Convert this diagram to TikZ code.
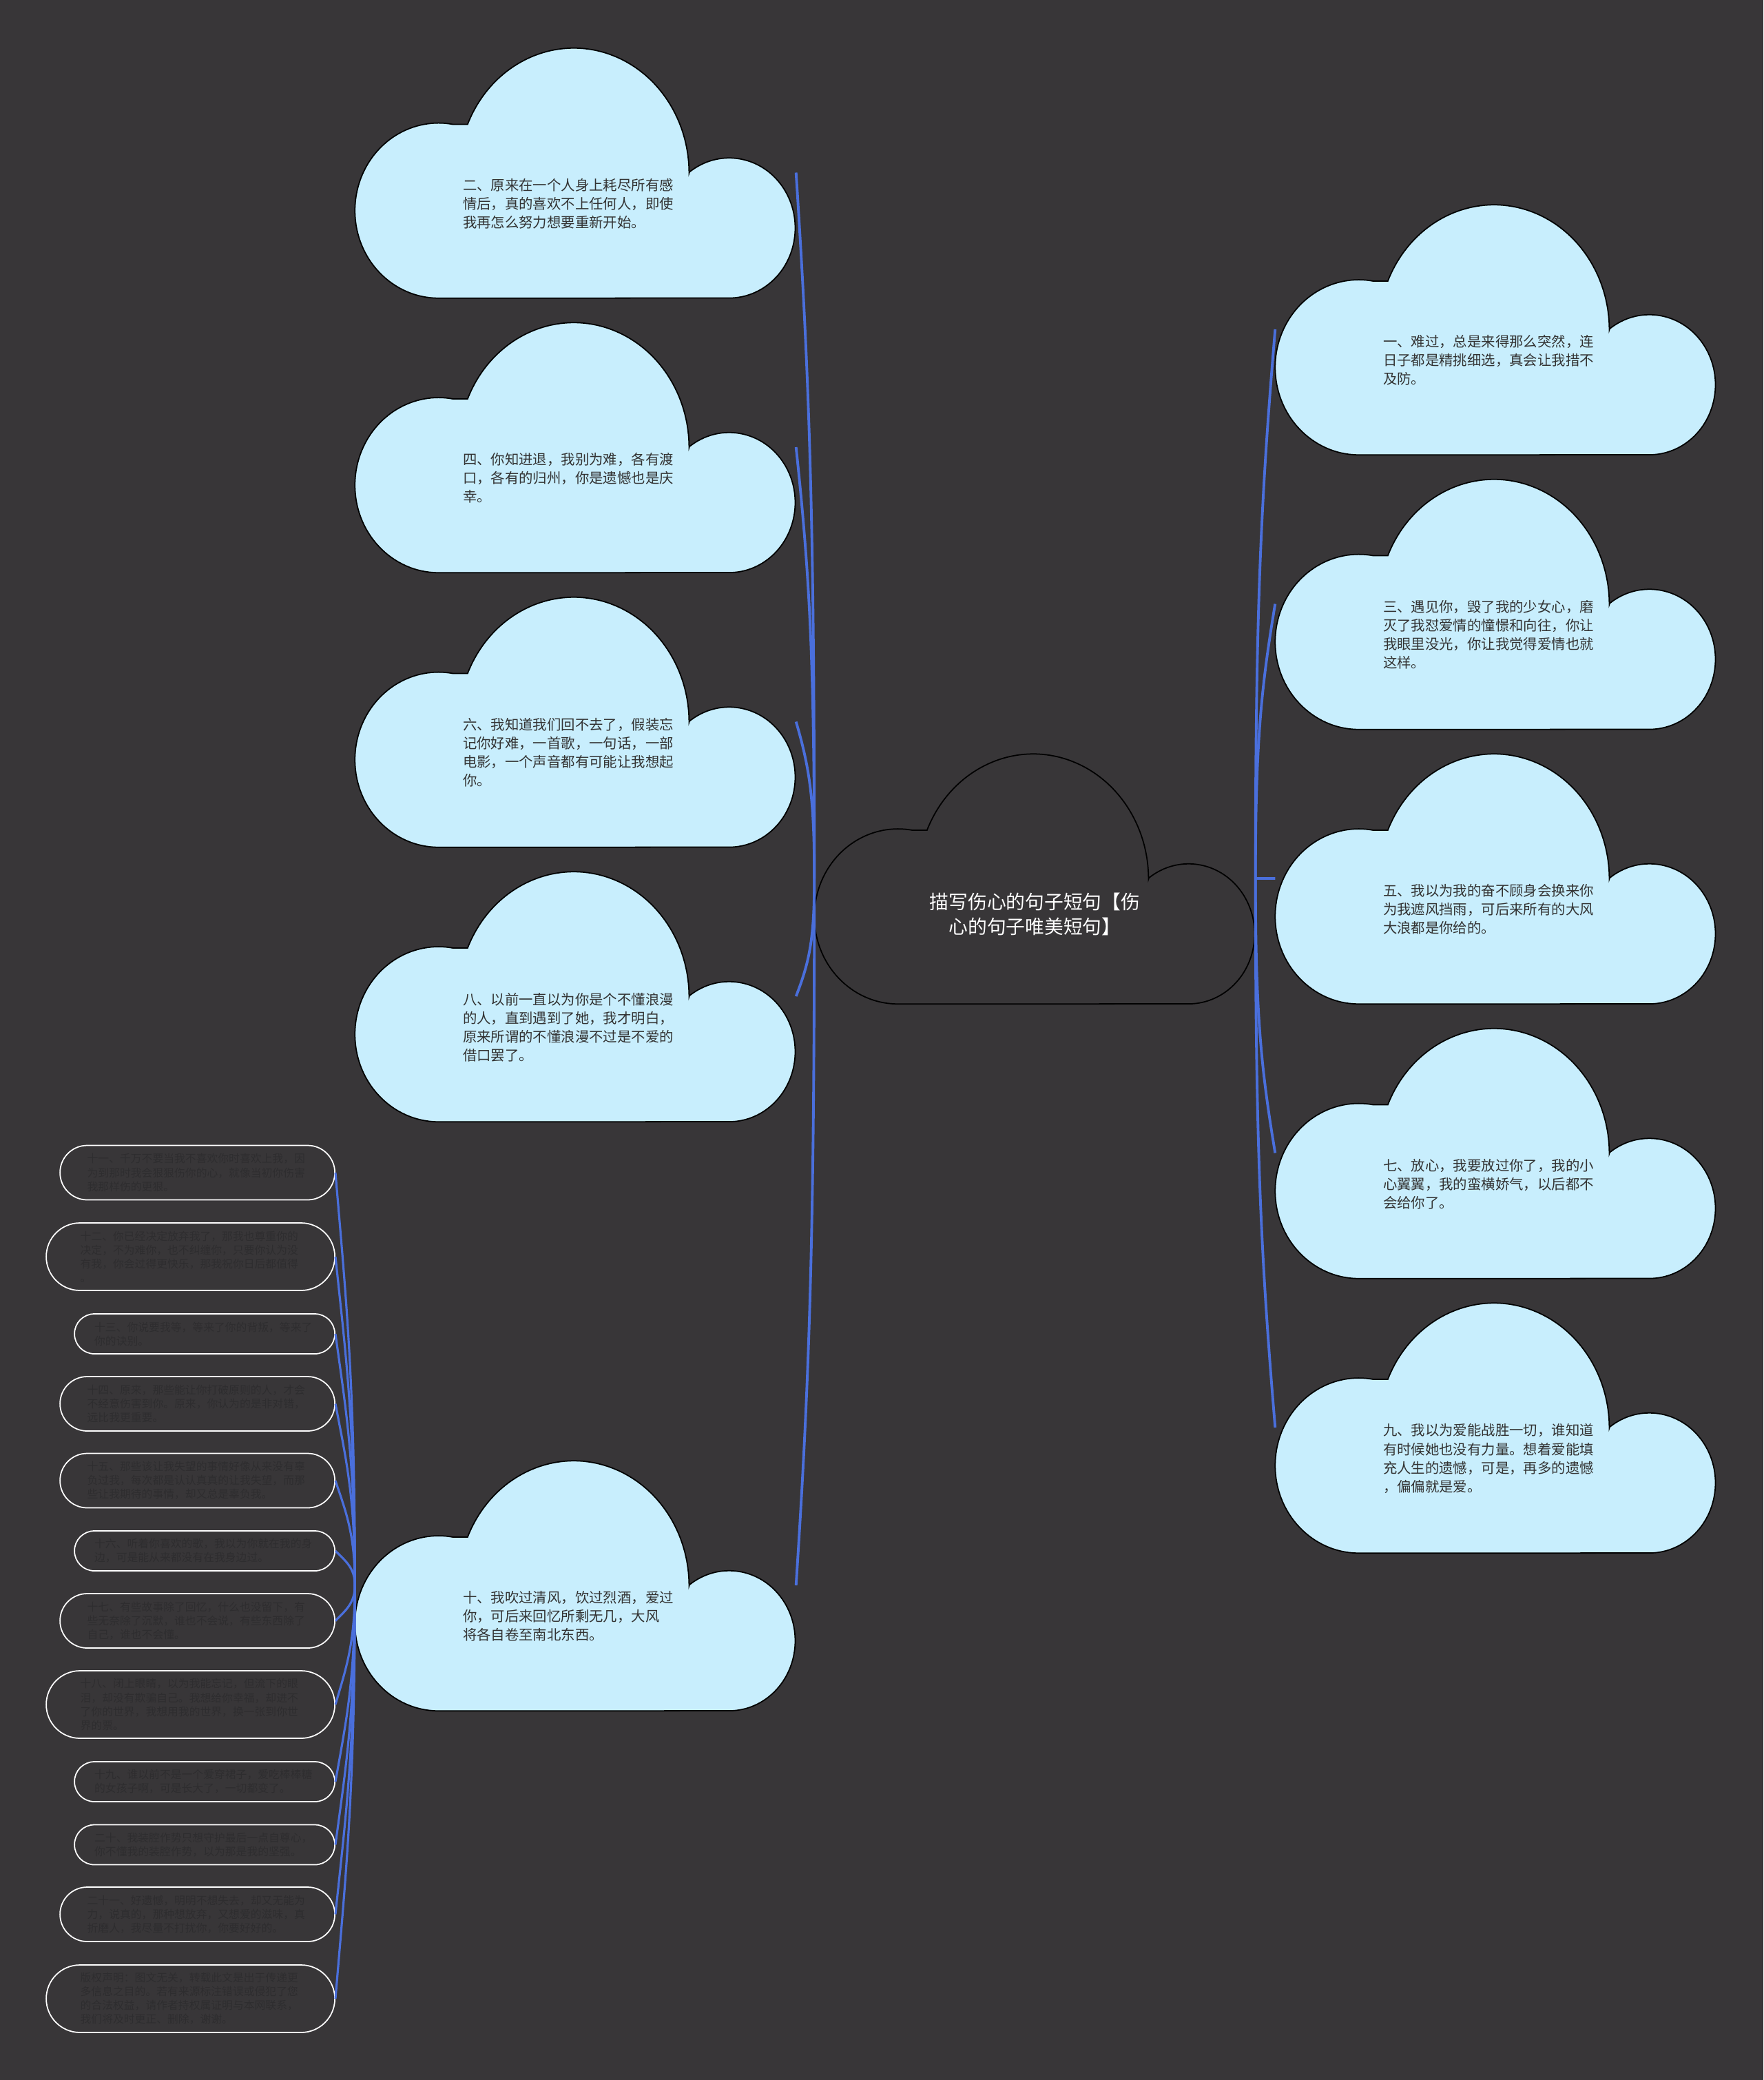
\documentclass[tikz,border=0pt]{standalone}
\usepackage{fontspec}
\newfontfamily\cjk{Noto Sans CJK SC}
\usepackage{tikz}
\usetikzlibrary{backgrounds, calc, shapes.misc}
\definecolor{bgdark}{HTML}{383638}
\definecolor{cloudblue}{HTML}{C8EEFD}
\definecolor{inkdark}{HTML}{333333}
\definecolor{pillink}{HTML}{2E2D2F}
\definecolor{linkblue}{HTML}{4A6FDC}

\tikzset{
  cloudbox/.style={rectangle, inner sep=0pt, minimum width=6.39cm, minimum height=3.63cm},
  cloudtxt/.style={font=\cjk\fontsize{5.8pt}{7.7pt}\selectfont, text=inkdark, align=left,
    text width=3.15cm, inner sep=0pt, xshift=-0.06cm, yshift=-0.45cm},
  maintxt/.style={font=\cjk\fontsize{7.9pt}{10.4pt}\selectfont, text=white, align=center,
    inner sep=0pt, yshift=-0.52cm},
  pill/.style={rounded rectangle, draw=white, line width=0.5pt, anchor=east, inner sep=0pt,
    font=\cjk\fontsize{4.5pt}{5.7pt}\selectfont, text=pillink, align=left, text width=3.2cm},
  pilltwo/.style={pill, minimum width=3.78cm, minimum height=0.58cm},
  pillthree/.style={pill, minimum width=3.99cm, minimum height=0.79cm},
  pillfour/.style={pill, minimum width=4.19cm, minimum height=0.98cm},
  branch/.style={linkblue, line width=1.1pt},
  twig/.style={linkblue, line width=0.9pt}
}

\begin{document}
\begin{tikzpicture}
  \useasboundingbox (0,0) rectangle (25.6,-30.19);

  % centre topic
  \node[cloudbox, label={[maintxt]center:描写伤心的句子短句【伤\\心的句子唯美短句】}] (main) at (15.025,-12.75) {};

  % left column (1 step = 3.985)
  \node[cloudbox, label={[cloudtxt]center:二、原来在一个人身上耗尽所有感\\情后，真的喜欢不上任何人，即使\\我再怎么努力想要重新开始。}] (q2) at (8.355,-2.505) {};
  \node[cloudbox, label={[cloudtxt]center:四、你知进退，我别为难，各有渡\\口，各有的归州，你是遗憾也是庆\\幸。}] (q4) at (8.355,-6.49) {};
  \node[cloudbox, label={[cloudtxt]center:六、我知道我们回不去了，假装忘\\记你好难，一首歌，一句话，一部\\电影，一个声音都有可能让我想起\\你。}] (q6) at (8.355,-10.475) {};
  \node[cloudbox, label={[cloudtxt]center:八、以前一直以为你是个不懂浪漫\\的人，直到遇到了她，我才明白，\\原来所谓的不懂浪漫不过是不爱的\\借口罢了。}] (q8) at (8.355,-14.46) {};
  \node[cloudbox, label={[cloudtxt]center:十、我吹过清风，饮过烈酒，爱过\\你，可后来回忆所剩无几，大风\\将各自卷至南北东西。}] (q10) at (8.355,-23.01) {};

  % right column
  \node[cloudbox, label={[cloudtxt]center:一、难过，总是来得那么突然，连\\日子都是精挑细选，真会让我措不\\及防。}] (q1) at (21.715,-4.78) {};
  \node[cloudbox, label={[cloudtxt]center:三、遇见你，毁了我的少女心，磨\\灭了我怼爱情的憧憬和向往，你让\\我眼里没光，你让我觉得爱情也就\\这样。}] (q3) at (21.715,-8.765) {};
  \node[cloudbox, label={[cloudtxt]center:五、我以为我的奋不顾身会换来你\\为我遮风挡雨，可后来所有的大风\\大浪都是你给的。}] (q5) at (21.715,-12.75) {};
  \node[cloudbox, label={[cloudtxt]center:七、放心，我要放过你了，我的小\\心翼翼，我的蛮横娇气，以后都不\\会给你了。}] (q7) at (21.715,-16.735) {};
  \node[cloudbox, label={[cloudtxt]center:九、我以为爱能战胜一切，谁知道\\有时候她也没有力量。想着爱能填\\充人生的遗憾，可是，再多的遗憾\\，偏偏就是爱。}] (q9) at (21.715,-20.72) {};

  % small pills hanging off "十"
  \node[pillthree] (p11) at (4.87,-17.02) {十一、千万不要当我不喜欢你时喜欢上我，因\\为到那时我会狠狠伤你的心，就像当初你伤害\\我那样伤的更狠。};
  \node[pillfour] (p12) at (4.87,-18.24) {十二、你已经决定放弃我了，那我也尊重你的\\决定，不为难你，也不纠缠你，只要你认为没\\有我，你会过得更快乐，那我祝你日后都值得\\。};
  \node[pilltwo] (p13) at (4.87,-19.36) {十三、你说要我等，等来了你的背叛，等来了\\你的诀别。};
  \node[pillthree] (p14) at (4.87,-20.375) {十四、原来，那些能让你打破原则的人，才会\\不经意伤害到你。原来，你认为的是非对错，\\远比我更重要。};
  \node[pillthree] (p15) at (4.87,-21.49) {十五、那些该让我失望的事情好像从来没有辜\\负过我，每次都是认认真真的让我失望，而那\\些让我期待的事情，却又总是辜负我。};
  \node[pilltwo] (p16) at (4.87,-22.51) {十六、听着你喜欢的歌，我以为你就在我的身\\边，可是能从来都没有在我身边过。};
  \node[pillthree] (p17) at (4.87,-23.525) {十七、有些故事除了回忆，什么也没留下，有\\些无奈除了沉默，谁也不会说，有些东西除了\\自己，谁也不会懂。};
  \node[pillfour] (p18) at (4.87,-24.74) {十八、闭上眼睛，以为我能忘记，但流下的眼\\泪，却没有欺骗自己。我想给你幸福，却进不\\了你的世界，我想用我的世界，换一张到你世\\界的票。};
  \node[pilltwo] (p19) at (4.87,-25.86) {十九、谁以前不是一个爱穿裙子，爱吃棒棒糖\\的女孩子啊，可是长大了，一切都变了。};
  \node[pilltwo] (p20) at (4.87,-26.775) {二十、我装腔作势只想守护最后一点自尊心，\\你不懂我的装腔作势，以为那是我的坚强。};
  \node[pillthree] (p21) at (4.87,-27.785) {二十一、好遗憾，明明不想失去，却又无能为\\力，说真的，那种想放弃，又想爱的滋味，真\\折磨人，我尽量不打扰你，你要好好的。};
  \node[pillfour] (pnote) at (4.87,-29.01) {版权声明：图文无关，转载此文是出于传递更\\多信息之目的。若有来源标注错误或侵犯了您\\的合法权益，请作者持权属证明与本网联系，\\我们将及时更正、删除，谢谢。};

  % cloud outlines behind the text
  \begin{scope}[on background layer]
    \fill[bgdark] (0,0) rectangle (25.6,-30.19);
    \foreach \b/\c in {main/bgdark, q1/cloudblue, q2/cloudblue, q3/cloudblue, q4/cloudblue,
      q5/cloudblue, q6/cloudblue, q7/cloudblue, q8/cloudblue, q9/cloudblue, q10/cloudblue} {
      \filldraw[fill=\c, draw=black, line width=0.5pt, shift={(\b.south west)}, x=6.39cm, y=3.63cm]
        (0.19,0) arc[start angle=270, end angle=80, x radius=0.19, y radius=0.35]
        -- (0.256,0.695) arc[start angle=157, end angle=0, x radius=0.262, y radius=0.5]
        -- (0.76,0.504) arc[start angle=127, end angle=-90, x radius=0.15, y radius=0.28]
        -- cycle;
    }
  \end{scope}

  % branches from the centre
  \foreach \b in {q2,q4,q6,q8,q10}
    \draw[branch] let \p1=(main.west), \p2=(\b.east) in
      (\p1) .. controls (\x1,{0.5*\y1+0.5*\y2}) and ({\x2+0.2cm},{0.3*\y1+0.7*\y2}) .. (\p2);
  \foreach \b in {q1,q3,q5,q7,q9}
    \draw[branch] let \p1=(main.east), \p2=(\b.west) in
      (\p1) .. controls (\x1,{0.5*\y1+0.5*\y2}) and ({\x2-0.2cm},{0.3*\y1+0.7*\y2}) .. (\p2);

  % twigs from "十" to the pills
  \foreach \b in {p11,p12,p13,p14,p15,p16,p17,p18,p19,p20,p21,pnote}
    \draw[twig] let \p1=(q10.west), \p2=(\b.east) in
      (\p1) .. controls (\x1,{0.5*\y1+0.5*\y2}) and ({\x2+0.15cm},{0.3*\y1+0.7*\y2}) .. (\p2);
\end{tikzpicture}
\end{document}
